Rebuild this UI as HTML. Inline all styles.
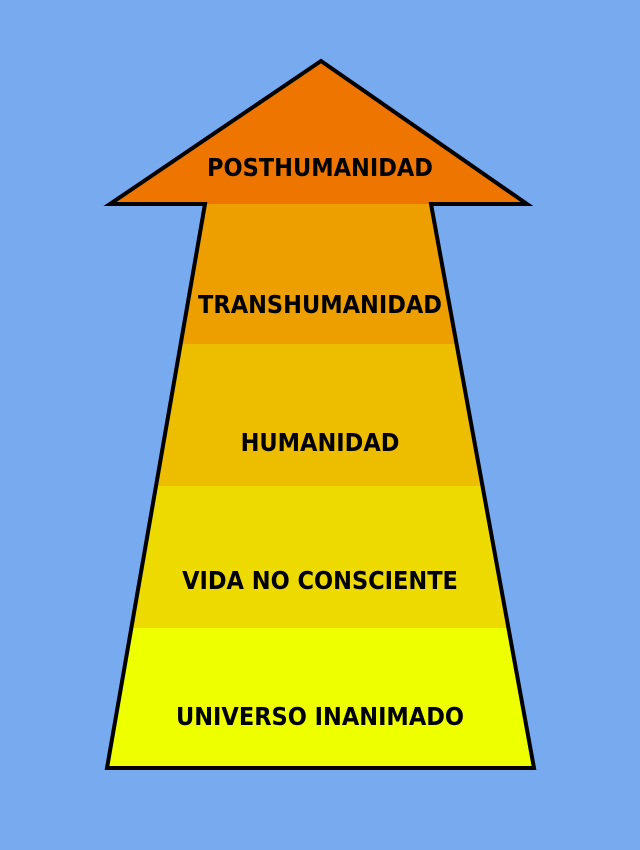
<!DOCTYPE html>
<html><head><meta charset="utf-8"><style>
html,body{margin:0;padding:0;background:#78aaf0;}
svg{display:block}
text{font-family:"DejaVu Sans Condensed","DejaVu Sans","Liberation Sans",sans-serif;font-stretch:condensed;font-weight:bold;font-size:25px;fill:#000;text-anchor:middle}
</style></head><body>
<svg width="640" height="850" viewBox="0 0 640 850" xmlns="http://www.w3.org/2000/svg">
<rect width="640" height="850" fill="#78aaf0"/>
<defs><clipPath id="c"><polygon points="205,204 431,204 534,768 107,768"/></clipPath></defs>
<g clip-path="url(#c)">
<rect x="0" y="204" width="640" height="140" fill="#ee9f00"/>
<rect x="0" y="344" width="640" height="142" fill="#edbd00"/>
<rect x="0" y="486" width="640" height="142" fill="#edda00"/>
<rect x="0" y="628" width="640" height="140" fill="#eeff00"/>
</g>
<polygon points="321,61 527,204 110,204" fill="#ee7600"/>
<polygon points="321,61 527,204 431,204 534,768 107,768 205,204 110,204" fill="none" stroke="#000" stroke-width="4" stroke-linejoin="miter"/>
<text x="320" y="176">POSTHUMANIDAD</text>
<text x="320" y="313">TRANSHUMANIDAD</text>
<text x="320" y="451">HUMANIDAD</text>
<text x="320" y="589">VIDA NO CONSCIENTE</text>
<text x="320" y="725">UNIVERSO INANIMADO</text>
</svg>
</body></html>
